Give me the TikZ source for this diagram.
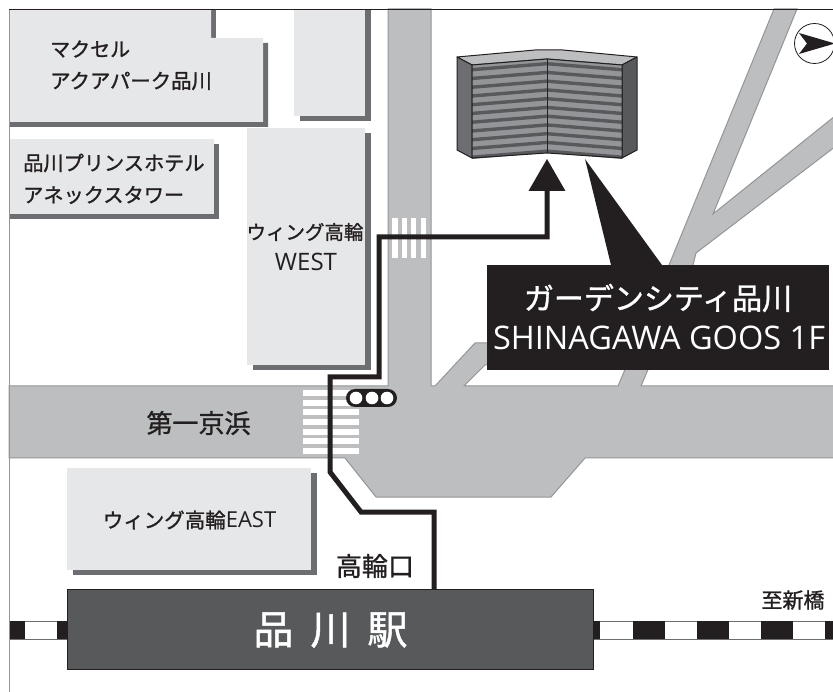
\documentclass[tikz,border=0pt]{standalone}
\usepackage{fontspec}
\setmainfont{Noto Sans CJK JP}[FakeBold=1.2]
\newfontfamily\latinf{Open Sans}
\definecolor{ink}{HTML}{231F20}
\definecolor{roadc}{HTML}{BCBEC0}
\definecolor{edgec}{HTML}{939598}
\definecolor{bldg}{HTML}{E6E7E8}
\definecolor{shad}{HTML}{6D6E71}
\definecolor{stn}{HTML}{58595B}
\newcommand{\fs}[1]{\fontsize{#1}{#1}\selectfont}
\tikzset{
  x=1pt,y=-1pt,
  road/.style={fill=roadc,draw=edgec,line width=1pt,line join=miter},
  bldgfill/.style={fill=bldg,draw=none},
  shadow fill/.style={fill=shad,draw=none},
  lbl/.style={text=ink,inner sep=0pt,align=left},
  route/.style={draw=ink,line width=5pt,line join=miter},
  face/.style={draw=ink,line width=1pt,line join=round},
  stripe/.style={fill=white,draw=none},
}
\begin{document}
\begin{tikzpicture}
\useasboundingbox (0,0) rectangle (833,692);
\begin{scope}
\clip (0,0) rectangle (833,692);
% roads
\draw[road] (9,386) -- (388,386) -- (388,9) -- (431,9) -- (431,386) -- (435,386) -- (475,343) -- (500,343) -- (500,365) -- (485,365) -- (464,386) -- (618,386) -- (669,265) -- (774,9) -- (797,9) -- (713,214) -- (840,112) -- (840,143) -- (696,253) -- (693,265) -- (641,386) -- (840,386) -- (840,458) -- (585,458) -- (551,497) -- (376,497) -- (345,458) -- (9,458) -- cycle;
% crosswalks
\foreach \a/\b in {392/398,402/407,411/416,421/426}
  \fill[stripe] (\a,218) rectangle (\b,258);
\foreach \c in {393,403,412,422,432,441,451}
  \fill[stripe] (303,\c-2.7) rectangle (359,\c+2.7);
% shadows & buildings
\fill[shadow fill] (211,9) rectangle (216,43);
\fill[shadow fill] (263,43) -- (268,43) -- (268,127) -- (9,127) -- (9,122) -- (263,122) -- cycle;
\fill[bldgfill] (9,9) -- (211,9) -- (211,38) -- (263,38) -- (263,122) -- (9,122) -- cycle;
\fill[shadow fill] (300,116) rectangle (371,121);
\fill[shadow fill] (365,9) rectangle (371,121);
\fill[bldgfill] (294,9) rectangle (365,116);
\fill[shadow fill] (9,214) rectangle (219,219);
\fill[shadow fill] (214,144) rectangle (219,219);
\fill[bldgfill] (9,139) rectangle (214,214);
\fill[shadow fill] (253,365) rectangle (371,370);
\fill[shadow fill] (365,133) rectangle (371,370);
\fill[bldgfill] (247,128) rectangle (365,365);
\fill[shadow fill] (73,570) rectangle (317,575);
\fill[shadow fill] (311,473) rectangle (317,575);
\fill[bldgfill] (67,468) rectangle (311,570);
% railway
\draw[fill=white,draw=shad,line width=.8pt] (9,621) rectangle (840,639);
\foreach \a/\b in {9/25,57/67,593/600,633/665,697/729,761/793,825/840}
  \fill[ink] (\a,621) rectangle (\b,639);
% frame
\draw[draw=edgec,line width=1pt] (9,9) -- (9,692);
\draw[draw=ink,line width=.8pt] (9,9) -- (840,9);
% tower
\draw[face,fill=roadc] (457,57) -- (535,50) -- (563,50) -- (637,57) -- (622,65) -- (547,59) -- (472,65) -- cycle;
\draw[face,fill=shad] (457,57) -- (472,65) -- (472,158) -- (457,150) -- cycle;
\draw[face,fill=stn] (637,57) -- (622,65) -- (622,158) -- (637,150) -- cycle;
\fill[edgec] (472,65) -- (547,59) -- (547,153) -- (472,158) -- cycle;
\fill[edgec] (547,59) -- (622,65) -- (622,158) -- (547,153) -- cycle;
\foreach \n in {0,...,10} {
  \pgfmathsetmacro{\t}{3+8.75*\n}
  \pgfmathsetmacro{\u}{\t+3.4}
  \fill[stn] (472,65+\t) -- (547,59+\t) -- (547,59+\u) -- (472,65+\u) -- cycle;
  \fill[stn] (547,59+\t) -- (622,65+\t) -- (622,65+\u) -- (547,59+\u) -- cycle;
}
\draw[face,fill=none] (472,65) -- (547,59) -- (622,65) -- (622,158) -- (547,153) -- (472,158) -- cycle;
\draw[face] (547,59) -- (547,153);
% callout
\coordinate (tip) at (585,159);
\fill[ink] (tip) -- (662,265) -- (611,265) -- cycle;
\node[fill=ink,minimum width=342pt,minimum height=105pt,inner sep=0pt,anchor=north west] (callout) at (487,265) {};
\node[text=white,inner sep=0pt] (calloutA) at (658,298) {\fs{30}ガーデンシティ品川};
\node[text=white,inner sep=0pt] (calloutB) at (659,338) {\latinf\fs{32.5}SHINAGAWA GOOS 1F};
% station
\node[fill=stn,draw=ink,line width=1pt,minimum width=526pt,minimum height=80pt,inner sep=0pt,anchor=north west] (station) at (67,589) {};
\node[text=white,inner sep=0pt] (stationlabel) at (330.5,630) {\fs{40}品\hspace{17pt}川\hspace{17pt}駅};
% route
\coordinate (r1) at (434,589);
\coordinate (r2) at (434,512);
\coordinate (r3) at (361,512);
\coordinate (r4) at (330,472);
\coordinate (r5) at (330,377);
\coordinate (r6) at (379,377);
\coordinate (r7) at (379,237);
\coordinate (r8) at (547,237);
\coordinate (r9) at (547,190);
\coordinate (ar) at (547,159);
\draw[route] (r1) -- (r2) -- (r3) -- (r4) -- (r5) -- (r6) -- (r7) -- (r8) -- (r9);
\fill[ink] (ar) -- (565.5,191) -- (528.5,191) -- cycle;
% signal
\node[fill=ink,rounded corners=9pt,minimum width=51pt,minimum height=18pt,inner sep=0pt] (signal) at (371.5,398) {};
\foreach \c in {356,372,387}
  \fill[white] (\c,398) circle (6.3);
% compass
\node[circle,draw=ink,fill=white,line width=.8pt,minimum size=40pt,inner sep=0pt] (compass) at (814.5,43.5) {};
\fill[ink] (835,43.5) -- (799,33) -- (807,43.5) -- (799,54) -- cycle;
\end{scope}
% labels
\node[lbl,anchor=west] (t1) at (50,49) {\fs{20}マクセル};
\node[lbl,anchor=west] (t2) at (50,81) {\fs{20.4}アクアパーク品川};
\node[lbl,anchor=west] (t3) at (23,163) {\fs{20.2}品川プリンスホテル};
\node[lbl,anchor=west] (t4) at (23,195) {\fs{20.2}アネックスタワー};
\node[lbl] (t5) at (305,232) {\fs{19.5}ウィング高輪};
\node[lbl] (t6) at (306,262) {\latinf\fs{24}WEST};
\node[lbl] (t7) at (198.5,423) {\fs{26}第一京浜};
\node[lbl] (t8) at (189.5,520) {\fs{20.5}ウィング高輪\latinf\fs{22}EAST};
\node[lbl] (t9) at (375,566) {\fs{26}高輪口};
\node[lbl] (t10) at (793,600) {\fs{21}至新橋};
\end{tikzpicture}
\end{document}
